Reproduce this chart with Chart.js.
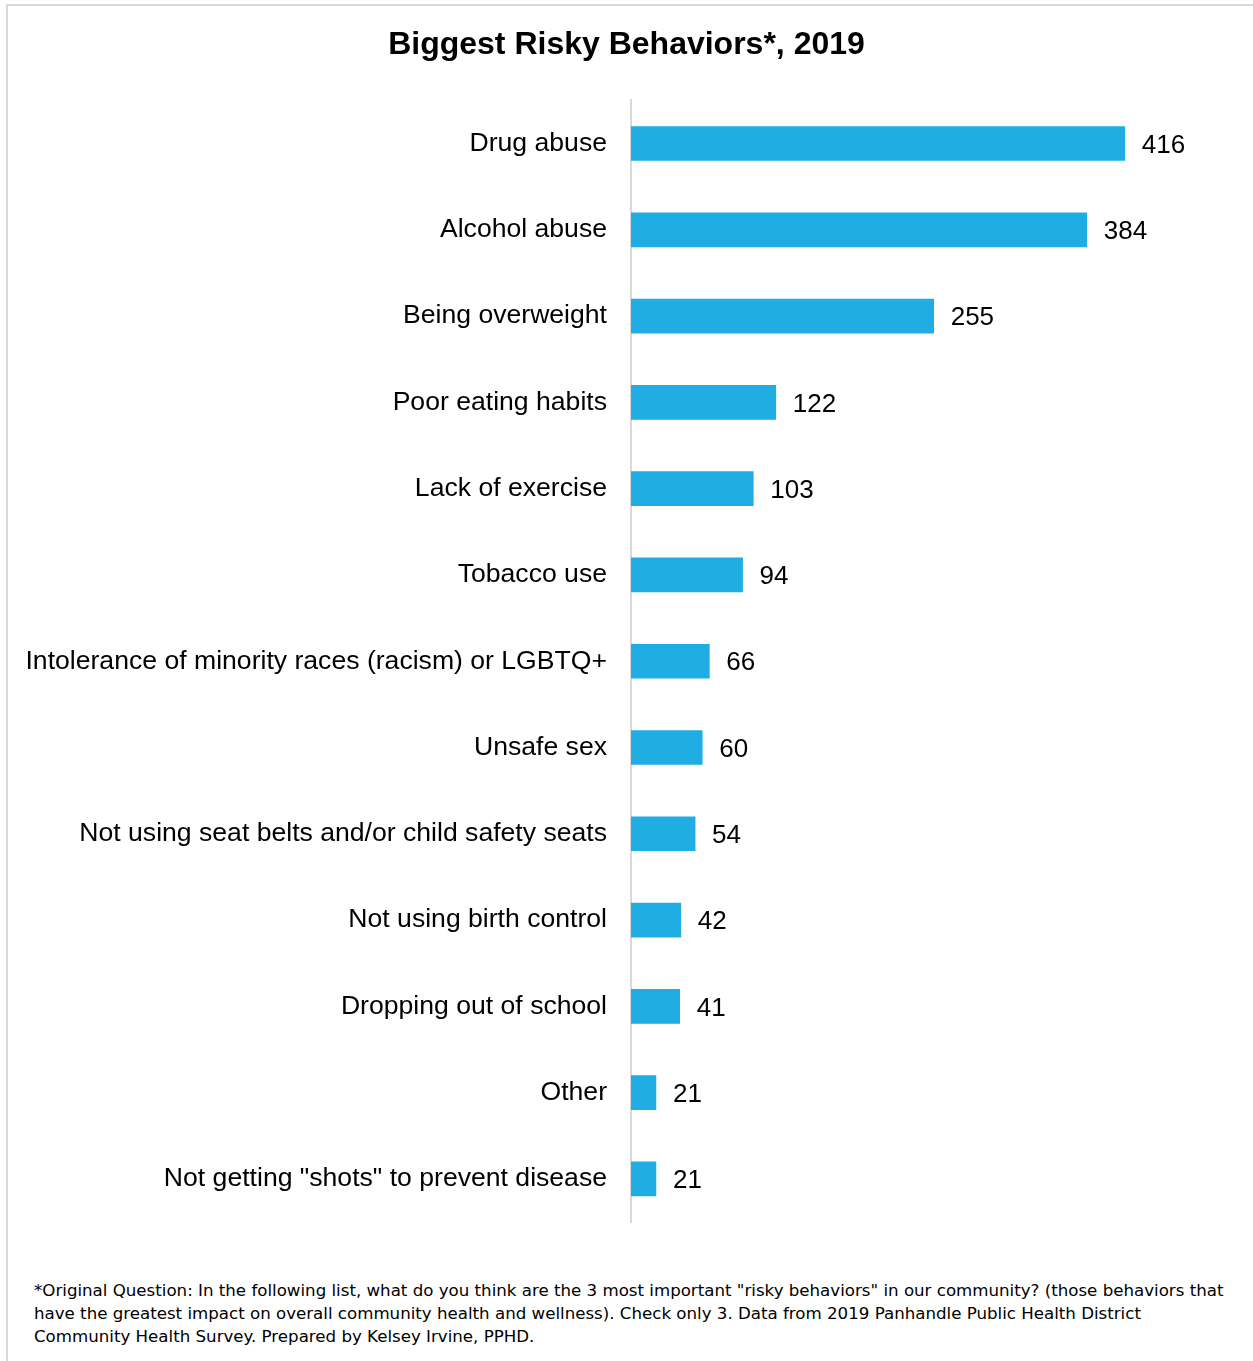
<!DOCTYPE html>
<html>
<head>
<meta charset="utf-8">
<script src="https://cdn.jsdelivr.net/npm/chart.js@4"></script>
<style>
  html, body { margin: 0; padding: 0; background: #fff; }
  body { width: 1253px; height: 1361px; position: relative; overflow: hidden; }
  #frame { position: absolute; left: 6px; top: 4px; width: 1300px; height: 1400px;
           border-top: 2px solid #d9d9d9; border-left: 2px solid #d9d9d9; }
  #wrap { position: absolute; left: 0; top: 0; width: 1253px; height: 1262px; }
  #note { position: absolute; left: 34px; top: 1279px; font-family: "DejaVu Sans", sans-serif;
          font-size: 16.65px; line-height: 23px; color: #000; white-space: nowrap; }
</style>
</head>
<body>
<div id="frame"></div>
<div id="wrap"><canvas id="barChart"></canvas></div>
<div id="note">*Original Question: In the following list, what do you think are the 3 most important "risky behaviors" in our community? (those behaviors that<br>have the greatest impact on overall community health and wellness). Check only 3. Data from 2019 Panhandle Public Health District<br>Community Health Survey. Prepared by Kelsey Irvine, PPHD.</div>
<script>
const behaviors = ['Drug abuse', 'Alcohol abuse', 'Being overweight', 'Poor eating habits', 'Lack of exercise',
  'Tobacco use', 'Intolerance of minority races (racism) or LGBTQ+', 'Unsafe sex',
  'Not using seat belts and/or child safety seats', 'Not using birth control', 'Dropping out of school',
  'Other', 'Not getting "shots" to prevent disease'];
const counts = [416, 384, 255, 122, 103, 94, 66, 60, 54, 42, 41, 21, 21];

// value labels at the end of each bar
const valueLabels = {
  id: 'valueLabels',
  afterDatasetsDraw(chart) {
    const ctx = chart.ctx;
    const meta = chart.getDatasetMeta(0);
    ctx.save();
    ctx.font = '26px "Liberation Sans", Arial, sans-serif';
    ctx.fillStyle = '#000';
    ctx.textAlign = 'left';
    ctx.textBaseline = 'middle';
    meta.data.forEach((bar, i) => {
      ctx.fillText(String(counts[i]), bar.x + 17, bar.y + 2);
    });
    ctx.restore();
  }
};

const ctx = document.getElementById('barChart').getContext('2d');
new Chart(ctx, {
  type: 'bar',
  data: {
    labels: behaviors,
    datasets: [{
      data: counts,
      backgroundColor: '#1fade3',
      barThickness: 34
    }]
  },
  plugins: [valueLabels],
  options: {
    indexAxis: 'y',
    responsive: true,
    maintainAspectRatio: false,
    animation: false,
    layout: { padding: { left: 0, right: 0, top: 0, bottom: 18 } },
    scales: {
      x: { display: false, min: 0, max: 524 },
      y: {
        afterFit(scale) { scale.width = 631; },
        grid: { display: false, drawTicks: false },
        border: { display: true, color: '#d9d9d9', width: 2 },
        ticks: {
          padding: 24,
          color: '#000',
          font: { family: '"Liberation Sans", Arial, sans-serif', size: 26.6 }
        }
      }
    },
    plugins: {
      legend: { display: false },
      tooltip: { enabled: false },
      title: {
        display: true,
        text: 'Biggest Risky Behaviors*, 2019',
        color: '#000',
        font: { family: '"Liberation Sans", Arial, sans-serif', size: 32, weight: 'bold', lineHeight: 1.2 },
        padding: { top: 26, bottom: 36 }
      }
    }
  }
});
</script>
</body>
</html>
